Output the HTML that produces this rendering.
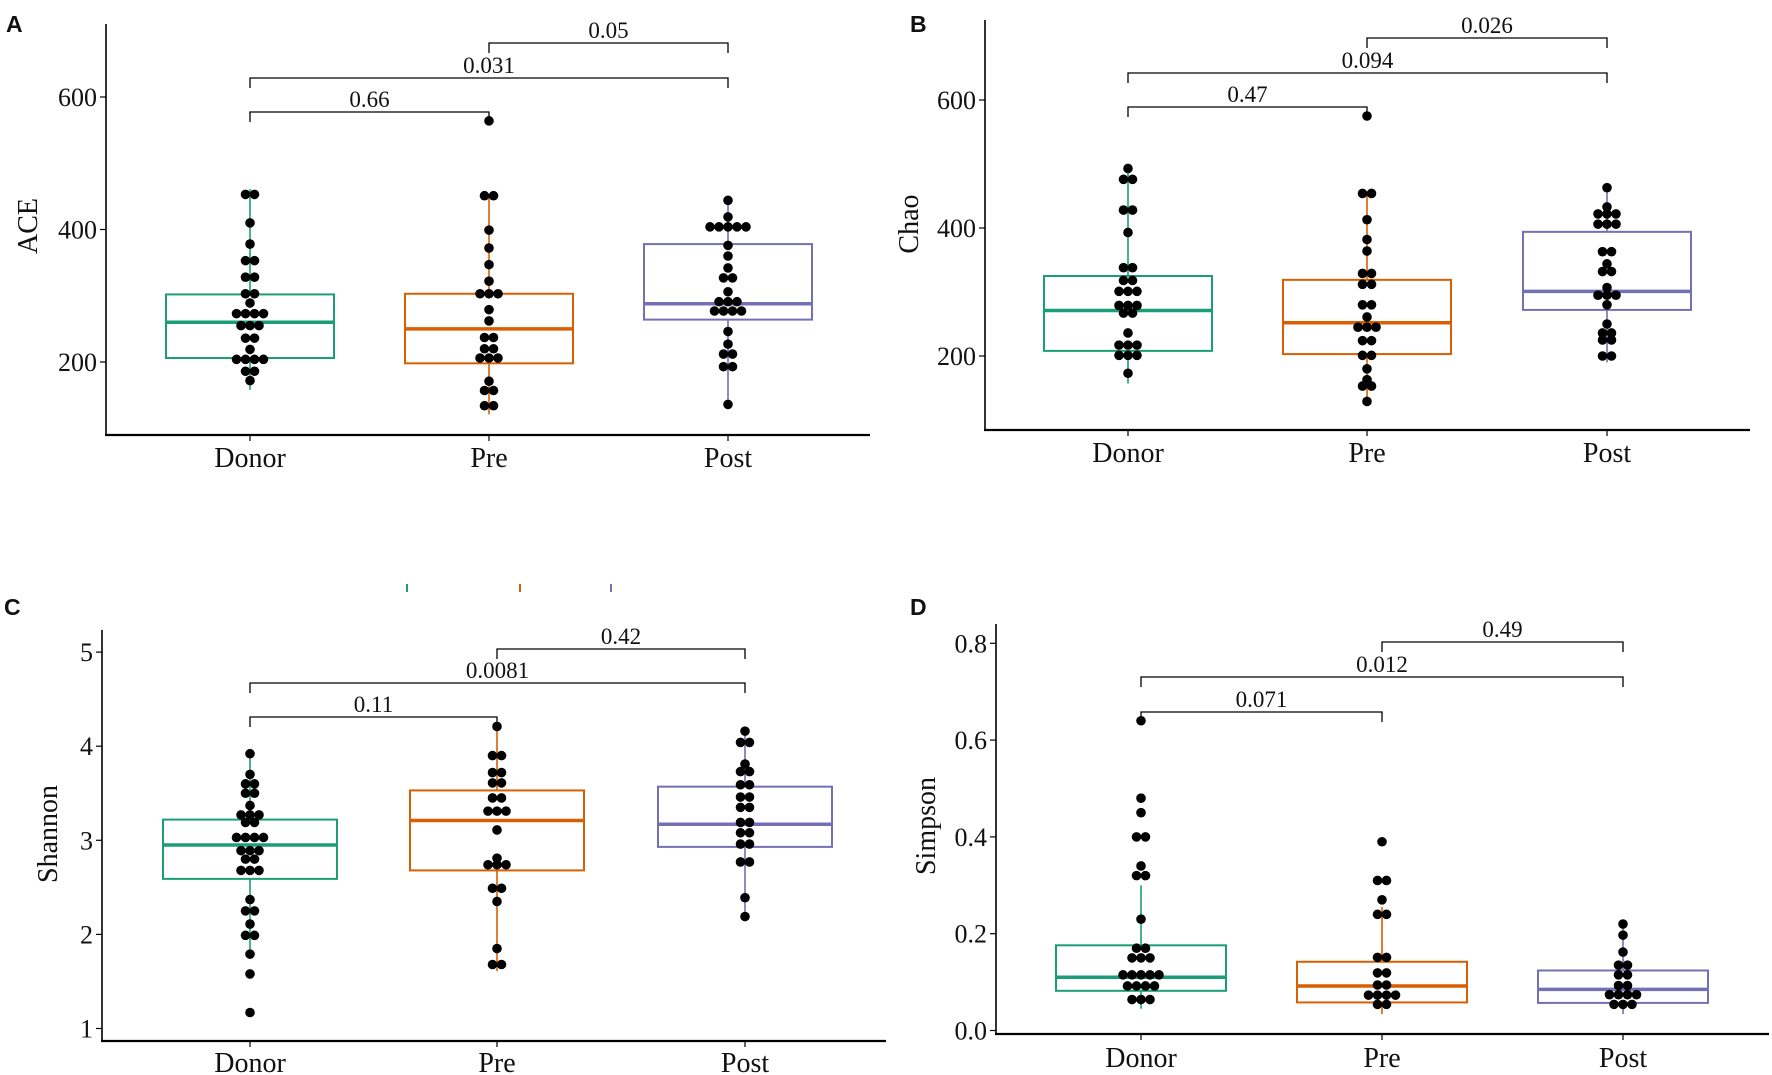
<!DOCTYPE html>
<html><head><meta charset="utf-8"><style>
html,body{margin:0;padding:0;background:#fff;}
svg{display:block;}
text{font-family:"Liberation Serif",serif;fill:#111;}
.lt{font-family:"Liberation Sans",sans-serif;font-weight:bold;}
</style></head><body>
<svg id="fig" width="1772" height="1075" viewBox="0 0 1772 1075" xmlns="http://www.w3.org/2000/svg"></svg>
<script>
const categories = ["Donor","Pre","Post"];
const colors = ["#1b9e77","#d95f02","#7570b3"];
// ACE
const aceStats = [[158,206,260,302,461],[121,198,250,303,453],[129,264,288,378,446]]; // lo,q1,med,q3,hi
const acePoints = [
 [453,453,410,378,353,353,328,328,303,303,289,273,273,273,273,255,255,255,236,236,219,204,204,204,204,186,186,172],
 [564,451,451,399,372,347,322,303,303,303,279,262,237,237,220,220,206,206,206,171,157,157,134,134],
 [444,419,404,404,404,404,404,376,360,342,327,327,306,291,291,291,277,277,277,277,246,227,212,212,193,193,136]];
const acePvals = ["0.66","0.031","0.05"];
const aceTicks = [200,400,600];
// Chao
const chaoStats = [[157,208,271,325,493],[122,203,252,319,454],[190,272,301,394,463]];
const chaoPoints = [
 [493,476,476,428,428,393,338,338,318,318,301,301,301,279,279,279,267,267,236,217,217,217,201,201,201,173],
 [575,454,454,413,382,364,329,329,312,312,280,280,261,245,245,245,224,224,201,201,180,163,153,153,129],
 [463,433,422,422,422,406,406,406,363,363,344,332,332,307,295,295,295,280,250,236,236,225,225,200,200]];
const chaoPvals = ["0.47","0.094","0.026"];
const chaoTicks = [200,400,600];
// Shannon
const shanStats = [[1.74,2.59,2.95,3.22,3.92],[1.61,2.68,3.21,3.53,4.21],[2.14,2.93,3.17,3.57,4.16]];
const shanPoints = [
 [3.92,3.70,3.60,3.60,3.50,3.50,3.37,3.27,3.27,3.27,3.19,3.19,3.03,3.03,3.03,3.03,2.89,2.89,2.89,2.80,2.80,2.68,2.68,2.68,2.37,2.25,2.25,2.11,1.99,1.99,1.79,1.58,1.17],
 [4.21,3.90,3.90,3.72,3.72,3.61,3.61,3.45,3.45,3.31,3.31,3.31,3.11,2.81,2.74,2.74,2.74,2.49,2.49,2.35,1.85,1.68,1.68],
 [4.16,4.04,4.04,3.81,3.73,3.73,3.59,3.59,3.46,3.46,3.35,3.35,3.19,3.19,3.08,3.08,2.96,2.96,2.77,2.77,2.39,2.19]];
const shanPvals = ["0.11","0.0081","0.42"];
const shanTicks = [1,2,3,4,5];
// Simpson
const simpStats = [[0.045,0.082,0.110,0.176,0.30],[0.034,0.058,0.092,0.142,0.255],[0.034,0.057,0.085,0.124,0.218]];
const simpPoints = [
 [0.64,0.48,0.45,0.40,0.40,0.34,0.32,0.32,0.23,0.17,0.17,0.15,0.15,0.15,0.115,0.115,0.115,0.115,0.115,0.092,0.092,0.092,0.092,0.064,0.064,0.064],
 [0.39,0.31,0.31,0.27,0.24,0.24,0.151,0.151,0.119,0.119,0.094,0.094,0.073,0.073,0.073,0.073,0.054,0.054],
 [0.22,0.197,0.162,0.135,0.135,0.115,0.115,0.093,0.093,0.074,0.074,0.074,0.074,0.054,0.054,0.054]];
const simpPvals = ["0.071","0.012","0.49"];
const simpTicks = [0.0,0.2,0.4,0.6,0.8];

const NS="http://www.w3.org/2000/svg";
const svg=document.getElementById('fig');
function mk(tag,attrs,parent){const e=document.createElementNS(NS,tag);for(const k in attrs)e.setAttribute(k,attrs[k]);(parent||svg).appendChild(e);return e;}

const panels=[
 {id:"ace",letter:"A",lx:6,ly:32,title:"ACE",tx:28,ty:226,ax:106,top:24,bot:435,right:870,cx:[250,489,728],hw:84,
  y:v=>362-(v-200)*0.6625,stats:aceStats,pts:acePoints,pv:acePvals,ticks:aceTicks,fmt:v=>String(v),by:[112,78,43],laby:457},
 {id:"chao",letter:"B",lx:910,ly:32,title:"Chao",tx:909,ty:224,ax:985,top:20,bot:430,right:1750,cx:[1128,1367,1607],hw:84,
  y:v=>356-(v-200)*0.64,stats:chaoStats,pts:chaoPoints,pv:chaoPvals,ticks:chaoTicks,fmt:v=>String(v),by:[107,73,38],laby:452},
 {id:"shannon",letter:"C",lx:4,ly:615,title:"Shannon",tx:48,ty:834,ax:102,top:630,bot:1041,right:886,cx:[250,497,745],hw:87,
  y:v=>1028.5-(v-1)*94.1,stats:shanStats,pts:shanPoints,pv:shanPvals,ticks:shanTicks,fmt:v=>String(v),by:[717,683,649],laby:1062},
 {id:"simpson",letter:"D",lx:910,ly:615,title:"Simpson",tx:926,ty:826,ax:996,top:624,bot:1034,right:1769,cx:[1141,1382,1623],hw:85,
  y:v=>1030.5-v*484,stats:simpStats,pts:simpPoints,pv:simpPvals,ticks:simpTicks,fmt:v=>v.toFixed(1),by:[712,677,642],laby:1057}
];

panels.forEach(p=>{
  const g=mk('g',{});
  
  
  const L=mk('text',{x:p.lx,y:p.ly,'font-size':23,class:'lt'},g);L.textContent=p.letter;
  
  
  const ya=mk('line',{x1:p.ax,y1:p.top,x2:p.ax,y2:p.bot,stroke:'#000','stroke-width':1.6},g);
  
  
  const xa=mk('line',{x1:p.ax-1,y1:p.bot,x2:p.right,y2:p.bot,stroke:'#000','stroke-width':2.2},g);
  
  
  p.ticks.forEach(t=>{
    const yy=p.y(t);
    mk('line',{x1:p.ax-6,y1:yy,x2:p.ax,y2:yy,stroke:'#000','stroke-width':1.2},g);
    const tl=mk('text',{x:p.ax-9,y:yy+9,'font-size':26,'text-anchor':'end'},g);tl.textContent=p.fmt(t);
    
    
  });
  const yt=mk('text',{x:p.tx,y:p.ty,'font-size':28,'text-anchor':'middle',transform:`rotate(-90 ${p.tx} ${p.ty})`,dy:9},g);
  yt.textContent=p.title;
  
  
  categories.forEach((c,i)=>{
    const x=p.cx[i];
    mk('line',{x1:x,y1:p.bot,x2:x,y2:p.bot+6,stroke:'#000','stroke-width':1.2},g);
    const cl=mk('text',{x:x,y:p.laby+10,'font-size':28,'text-anchor':'middle'},g);cl.textContent=c;
    
    
    const s=p.stats[i],col=colors[i];
    const bg=mk('g',{},g);
    
    
    mk('line',{x1:x,y1:p.y(s[4]),x2:x,y2:p.y(s[3]),stroke:col,'stroke-width':1.6},bg);
    mk('line',{x1:x,y1:p.y(s[1]),x2:x,y2:p.y(s[0]),stroke:col,'stroke-width':1.6},bg);
    mk('rect',{x:x-p.hw,y:p.y(s[3]),width:2*p.hw,height:p.y(s[1])-p.y(s[3]),fill:'none',stroke:col,'stroke-width':2},bg);
    mk('line',{x1:x-p.hw,y1:p.y(s[2]),x2:x+p.hw,y2:p.y(s[2]),stroke:col,'stroke-width':3.5},bg);
    const counts={};p.pts[i].forEach(v=>{counts[v]=(counts[v]||0)+1;});
    const used={};
    p.pts[i].forEach(v=>{
      const n=counts[v],k=(used[v]=(used[v]||0)+1)-1;
      const dx=(k-(n-1)/2)*9;
      const d=mk('circle',{cx:x+dx,cy:p.y(v),r:4.8,fill:'#000'},bg);
      
      
    });
  });
  const pairs=[[0,1],[0,2],[1,2]];
  pairs.forEach((pr,j)=>{
    const x1=p.cx[pr[0]],x2=p.cx[pr[1]],yy=p.by[j];
    const br=mk('path',{d:`M${x1} ${yy+10}V${yy}H${x2}V${yy+10}`,fill:'none',stroke:'#000','stroke-width':1.3},g);
    
    
    const bt=mk('text',{x:(x1+x2)/2,y:yy-5,'font-size':23,'text-anchor':'middle'},g);bt.textContent=p.pv[j];
    
    
  });
});
[[407,colors[0]],[520,colors[1]],[611,colors[2]]].forEach(a=>{
  const t=mk('line',{x1:a[0],y1:584,x2:a[0],y2:592,stroke:a[1],'stroke-width':2});
  
  
});
</script>
</body></html>
